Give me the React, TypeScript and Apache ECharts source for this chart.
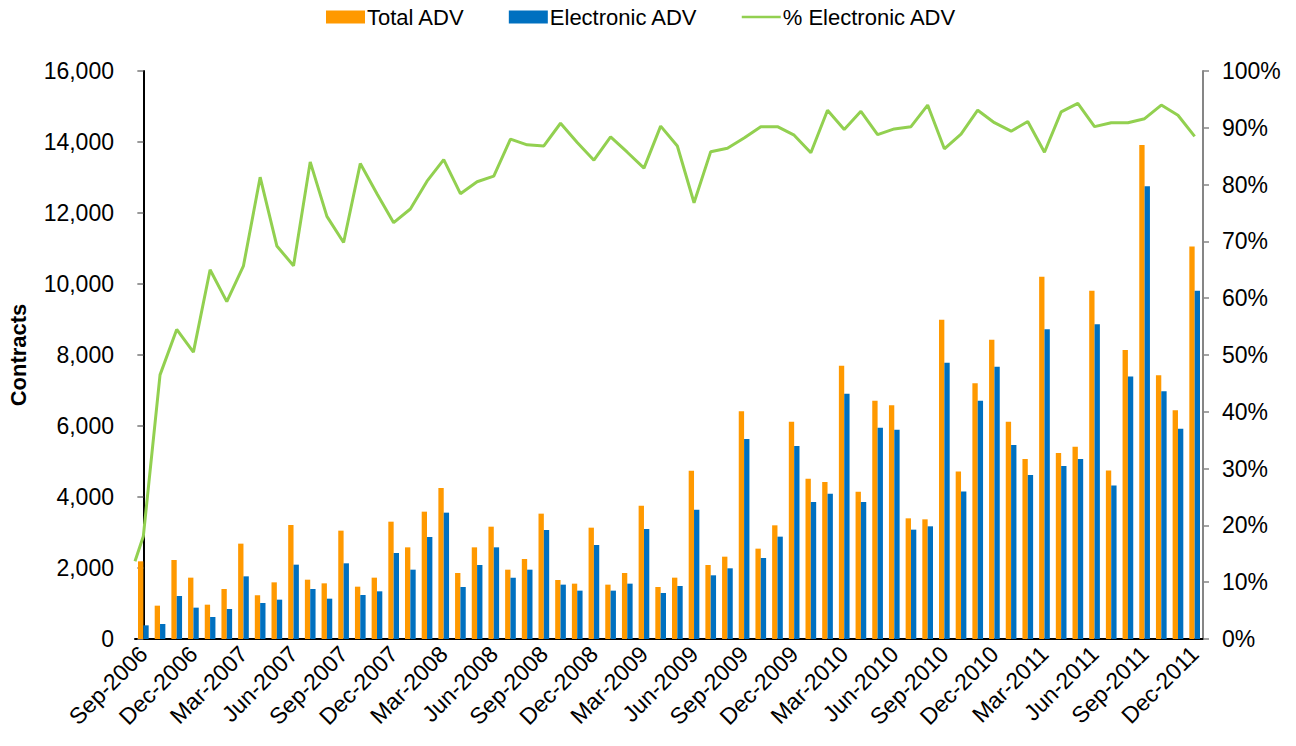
import React, { useEffect, useRef } from "react";
import * as echarts from "echarts";

const categories: string[] = [
  "Sep-2006", "Oct-2006", "Nov-2006", "Dec-2006",
  "Jan-2007", "Feb-2007", "Mar-2007", "Apr-2007", "May-2007", "Jun-2007", "Jul-2007", "Aug-2007", "Sep-2007", "Oct-2007", "Nov-2007", "Dec-2007",
  "Jan-2008", "Feb-2008", "Mar-2008", "Apr-2008", "May-2008", "Jun-2008", "Jul-2008", "Aug-2008", "Sep-2008", "Oct-2008", "Nov-2008", "Dec-2008",
  "Jan-2009", "Feb-2009", "Mar-2009", "Apr-2009", "May-2009", "Jun-2009", "Jul-2009", "Aug-2009", "Sep-2009", "Oct-2009", "Nov-2009", "Dec-2009",
  "Jan-2010", "Feb-2010", "Mar-2010", "Apr-2010", "May-2010", "Jun-2010", "Jul-2010", "Aug-2010", "Sep-2010", "Oct-2010", "Nov-2010", "Dec-2010",
  "Jan-2011", "Feb-2011", "Mar-2011", "Apr-2011", "May-2011", "Jun-2011", "Jul-2011", "Aug-2011", "Sep-2011", "Oct-2011", "Nov-2011", "Dec-2011",
];

const totalADV: number[] = [
  2188, 939, 2225, 1728, 967, 1409, 2686, 1230, 1596, 3211,
  1671, 1568, 3052, 1474, 1728, 3305, 2582, 3587, 4254, 1859,
  2582, 3164, 1953, 2254, 3531, 1662, 1559, 3136, 1531, 1859,
  3756, 1465, 1728, 4742, 2085, 2319, 6413, 2545, 3202, 6122,
  4517, 4423, 7700, 4150, 6714, 6582, 3399, 3371, 8990, 4717,
  7204, 8432, 6123, 5071, 10201, 5238, 5415, 9808, 4747, 8138,
  13916, 7430, 6447, 11057,
];

const electronicADV: number[] = [
  385, 423, 1211, 883, 620, 845, 1765, 1014, 1108, 2094,
  1409, 1136, 2132, 1239, 1343, 2423, 1953, 2873, 3559, 1465,
  2085, 2582, 1728, 1953, 3071, 1531, 1362, 2648, 1362, 1559,
  3099, 1296, 1493, 3643, 1794, 1991, 5634, 2282, 2883, 5437,
  3859, 4094, 6911, 3859, 5953, 5897, 3080, 3174, 7780, 4157,
  6713, 7666, 5464, 4619, 8727, 4875, 5071, 8865, 4324, 7391,
  12757, 6978, 5926, 9808,
];

// % electronic, read per month; the drawn line starts at the axis edge with a lead-in value
const pctLeadIn: number = 13.7;
const pctElectronic: number[] = [
  18.1, 46.5, 54.5, 50.5, 65.0, 59.4, 65.7, 81.3, 69.2, 65.7,
  84.0, 74.4, 69.8, 83.7, 78.4, 73.3, 75.7, 80.6, 84.4, 78.4,
  80.5, 81.5, 88.0, 87.0, 86.8, 90.8, 87.4, 84.3, 88.4, 85.7,
  82.9, 90.3, 86.8, 76.8, 85.8, 86.4, 88.2, 90.2, 90.2, 88.7,
  85.6, 93.1, 89.7, 92.9, 88.8, 89.8, 90.2, 94.0, 86.3, 88.9,
  93.1, 90.9, 89.4, 91.1, 85.7, 92.8, 94.3, 90.2, 90.9, 90.9,
  91.6, 94.0, 92.2, 88.5,
];

const leftTicks = { min: 0, max: 16000, interval: 2000 };
const rightTicks = { min: 0, max: 100, interval: 10 };

const FONT = "'Liberation Sans', Arial, Helvetica, sans-serif";

export default function App() {
  const ref = useRef<HTMLDivElement>(null);

  useEffect(() => {
    if (!ref.current) return;
    const chart = echarts.init(ref.current, undefined, { renderer: "svg" });

    const lineData: [number, number][] = [[-0.5, pctLeadIn]];
    pctElectronic.forEach((v, i) => lineData.push([i, v]));

    chart.setOption({
      animation: false,
      backgroundColor: "#ffffff",
      textStyle: { fontFamily: FONT, color: "#000" },
      legend: {
        top: 1,
        left: 321,
        itemWidth: 39,
        itemHeight: 13,
        itemGap: 44,
        textStyle: { fontSize: 22, fontFamily: FONT, color: "#000", padding: [0, 0, 0, -3] },
        data: [
          { name: "Total ADV", icon: "rect" },
          { name: "Electronic ADV", icon: "rect" },
          { name: "% Electronic ADV", icon: "path://M0,0h44v3h-44z", itemStyle: { color: "#92D050" } },
        ],
      },
      grid: { left: 135, right: 93, top: 71, bottom: 107, containLabel: false, outerBoundsMode: "none" },
      xAxis: [
        {
          type: "category",
          data: categories,
          boundaryGap: true,
          axisLine: { lineStyle: { color: "#000", width: 2 } },
          axisTick: { interval: 2, length: 6, lineStyle: { color: "#222", width: 1.5 } },
          axisLabel: {
            interval: 2,
            rotate: 45,
            fontSize: 23,
            fontFamily: FONT,
            color: "#000",
            margin: 11,
          },
          splitLine: { show: false },
        },
        {
          type: "value",
          min: -0.5,
          max: 63.5,
          show: false,
          splitLine: { show: false },
        },
      ],
      yAxis: [
        {
          type: "value",
          min: leftTicks.min,
          max: leftTicks.max,
          interval: leftTicks.interval,
          name: "Contracts",
          nameLocation: "middle",
          nameRotate: 90,
          nameGap: 106,
          nameTextStyle: { fontSize: 22, fontWeight: "bold", fontFamily: FONT, color: "#000" },
          axisLine: { show: true, lineStyle: { color: "#000", width: 2 } },
          axisTick: { show: true, length: 6, lineStyle: { color: "#777", width: 1.5 } },
          axisLabel: {
            fontSize: 23,
            fontFamily: FONT,
            color: "#000",
            margin: 21,
            formatter: (v: number) => v.toLocaleString("en-US"),
          },
          splitLine: { show: false },
        },
        {
          type: "value",
          min: rightTicks.min,
          max: rightTicks.max,
          interval: rightTicks.interval,
          position: "right",
          axisLine: { show: true, lineStyle: { color: "#868686", width: 2 } },
          axisTick: { show: true, length: 6, lineStyle: { color: "#868686", width: 1.5 } },
          axisLabel: {
            fontSize: 23,
            fontFamily: FONT,
            color: "#000",
            margin: 19,
            formatter: "{value}%",
          },
          splitLine: { show: false },
        },
      ],
      series: [
        {
          name: "Total ADV",
          type: "bar",
          xAxisIndex: 0,
          yAxisIndex: 0,
          data: totalADV,
          itemStyle: { color: "#FF9900" },
          barGap: "0%",
          barCategoryGap: "36%",
        },
        {
          name: "Electronic ADV",
          type: "bar",
          xAxisIndex: 0,
          yAxisIndex: 0,
          data: electronicADV,
          itemStyle: { color: "#0070C0" },
          barGap: "0%",
          barCategoryGap: "36%",
        },
        {
          name: "% Electronic ADV",
          type: "line",
          xAxisIndex: 1,
          yAxisIndex: 1,
          data: lineData,
          symbol: "none",
          lineStyle: { color: "#92D050", width: 3 },
          itemStyle: { color: "#92D050" },
          z: 5,
        },
      ],
    });

    return () => chart.dispose();
  }, []);

  return (
    <div
      ref={ref}
      style={{ position: "fixed", left: 0, top: 0, width: 1296, height: 746, background: "#fff" }}
    />
  );
}
